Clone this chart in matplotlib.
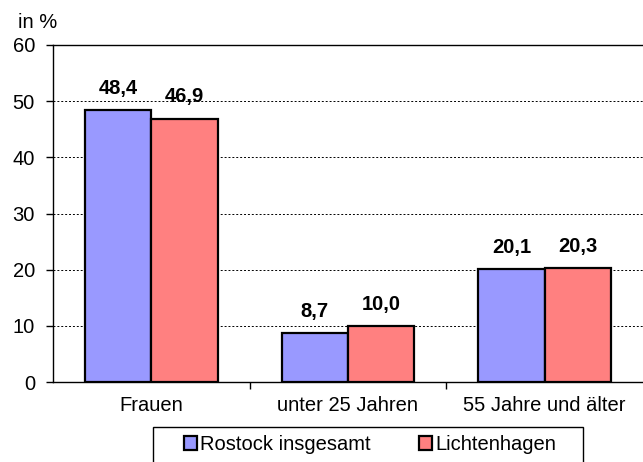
import numpy as np
import matplotlib
matplotlib.use("Agg")
import matplotlib.pyplot as plt
from matplotlib.patches import Rectangle

# Data
categories = ["Frauen", "unter 25 Jahren", "55 Jahre und älter"]
series_names = ["Rostock insgesamt", "Lichtenhagen"]
rostock = [48.4, 8.7, 20.1]
lichtenhagen = [46.9, 10.0, 20.3]
colors = ["#9999ff", "#ff8080"]

plt.rcParams["font.family"] = ["Liberation Sans", "DejaVu Sans"]
FS = 14.5

fig = plt.figure(figsize=(6.43, 4.62), dpi=100)
ax = fig.add_axes([0.0824, 0.173, 0.9176, 0.7296])

x = np.arange(len(categories))
w = 0.337
b1 = ax.bar(x - w / 2, rostock, w, color=colors[0], edgecolor="black",
            linewidth=1.6, label=series_names[0], zorder=3)
b2 = ax.bar(x + w / 2, lichtenhagen, w, color=colors[1], edgecolor="black",
            linewidth=1.6, label=series_names[1], zorder=3)

for bars, vals in ((b1, rostock), (b2, lichtenhagen)):
    for bar, v in zip(bars, vals):
        ax.text(bar.get_x() + bar.get_width() / 2, v + 2.2,
                f"{v:.1f}".replace(".", ","), ha="center", va="bottom",
                fontsize=FS, fontweight="bold")

ax.set_xlim(-0.5, 2.5)
ax.set_ylim(0, 60)
ax.set_yticks(range(0, 61, 10))
ax.tick_params(axis="y", labelsize=FS, length=5, width=1, pad=8)
for y in range(10, 60, 10):
    ax.axhline(y, color="black", linestyle=(0, (2, 2)), linewidth=0.7, zorder=1)

# category boundary ticks on the x axis
ax.set_xticks([0.5, 1.5], minor=False)
ax.set_xticklabels([])
ax.set_xticks(x, minor=True)
ax.set_xticklabels(categories, minor=True)
ax.tick_params(axis="x", which="major", length=5, width=1)
ax.tick_params(axis="x", which="minor", length=0, labelsize=FS, pad=10)

ax.spines["right"].set_visible(False)
for s in ("left", "bottom", "top"):
    ax.spines[s].set_linewidth(1)

fig.text(0.028, 0.952, "in %", fontsize=FS, ha="left", va="center")

# legend frame drawn separately (wide horizontal padding)
fig.patches.append(Rectangle((153 / 643, -0.05), 430 / 643, 0.05 + 35 / 462,
                             transform=fig.transFigure, fill=False,
                             edgecolor="black", linewidth=1))
leg = fig.legend(handles=[b1, b2], loc="center",
                 bbox_to_anchor=(0.5754, 0.038), ncol=2, fontsize=FS,
                 frameon=False, handlelength=0.65, handleheight=0.65,
                 handletextpad=0.15, columnspacing=2.4, borderpad=0.2)

fig.savefig("out.png", dpi=100)
